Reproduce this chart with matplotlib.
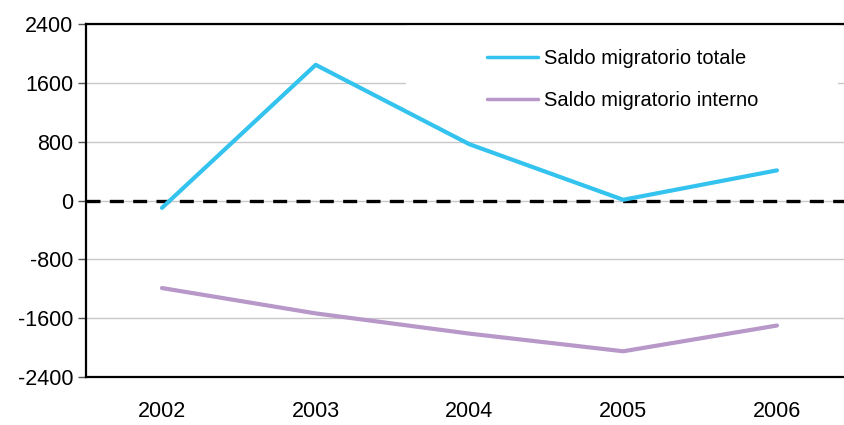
import matplotlib.pyplot as plt
from matplotlib.patches import Rectangle

plt.rcParams["font.family"] = ["Liberation Sans", "DejaVu Sans"]
plt.rcParams["axes.unicode_minus"] = False

years = ["2002", "2003", "2004", "2005", "2006"]
saldo_totale = [-100, 1845, 765, 10, 410]
saldo_interno = [-1190, -1535, -1810, -2050, -1700]
y_ticks = [-2400, -1600, -800, 0, 800, 1600, 2400]

blue = "#33C3EE"
purple = "#B897C9"

fig = plt.figure(figsize=(8.44, 4.25), dpi=100)
ax = fig.add_axes([0.1019, 0.1129, 0.8981, 0.8306])

x = range(len(years))
ax.plot(x, saldo_totale, color=blue, lw=3, solid_capstyle="round", zorder=3, label="Saldo migratorio totale")
ax.plot(x, saldo_interno, color=purple, lw=3, solid_capstyle="round", zorder=3, label="Saldo migratorio interno")
ax.axhline(0, color="black", lw=2.4, ls=(0, (4.2, 2.8)), zorder=2.5)

ax.set_xlim(-0.494, 4.436)
ax.set_ylim(-2400, 2400)
ax.set_yticks(y_ticks)
ax.set_xticks(list(x))
ax.set_xticklabels(years)
ax.tick_params(axis="y", labelsize=15.5, length=6, width=1, color="#555555", direction="out", pad=3)
ax.tick_params(axis="x", labelsize=15.5, length=0, pad=17)

ax.set_axisbelow(True)
ax.yaxis.grid(True, color="#C8C8C8", lw=1)
for side in ["left", "bottom", "top"]:
    ax.spines[side].set_linewidth(1.6)
    ax.spines[side].set_color("black")
ax.spines["right"].set_visible(False)

# white box behind the legend (covers the grid line)
ax.add_patch(Rectangle((0.422, 0.728), 0.57, 0.268, transform=ax.transAxes,
                       facecolor="white", edgecolor="none", zorder=1.5))

leg = ax.legend(loc="upper left", bbox_to_anchor=(0.516, 0.957), frameon=False,
                fontsize=14.5, borderpad=0, handlelength=2.5, handletextpad=0.3,
                labelspacing=1.12)
for line in leg.get_lines():
    line.set_linewidth(2.5)

fig.savefig("out.png", dpi=100)
